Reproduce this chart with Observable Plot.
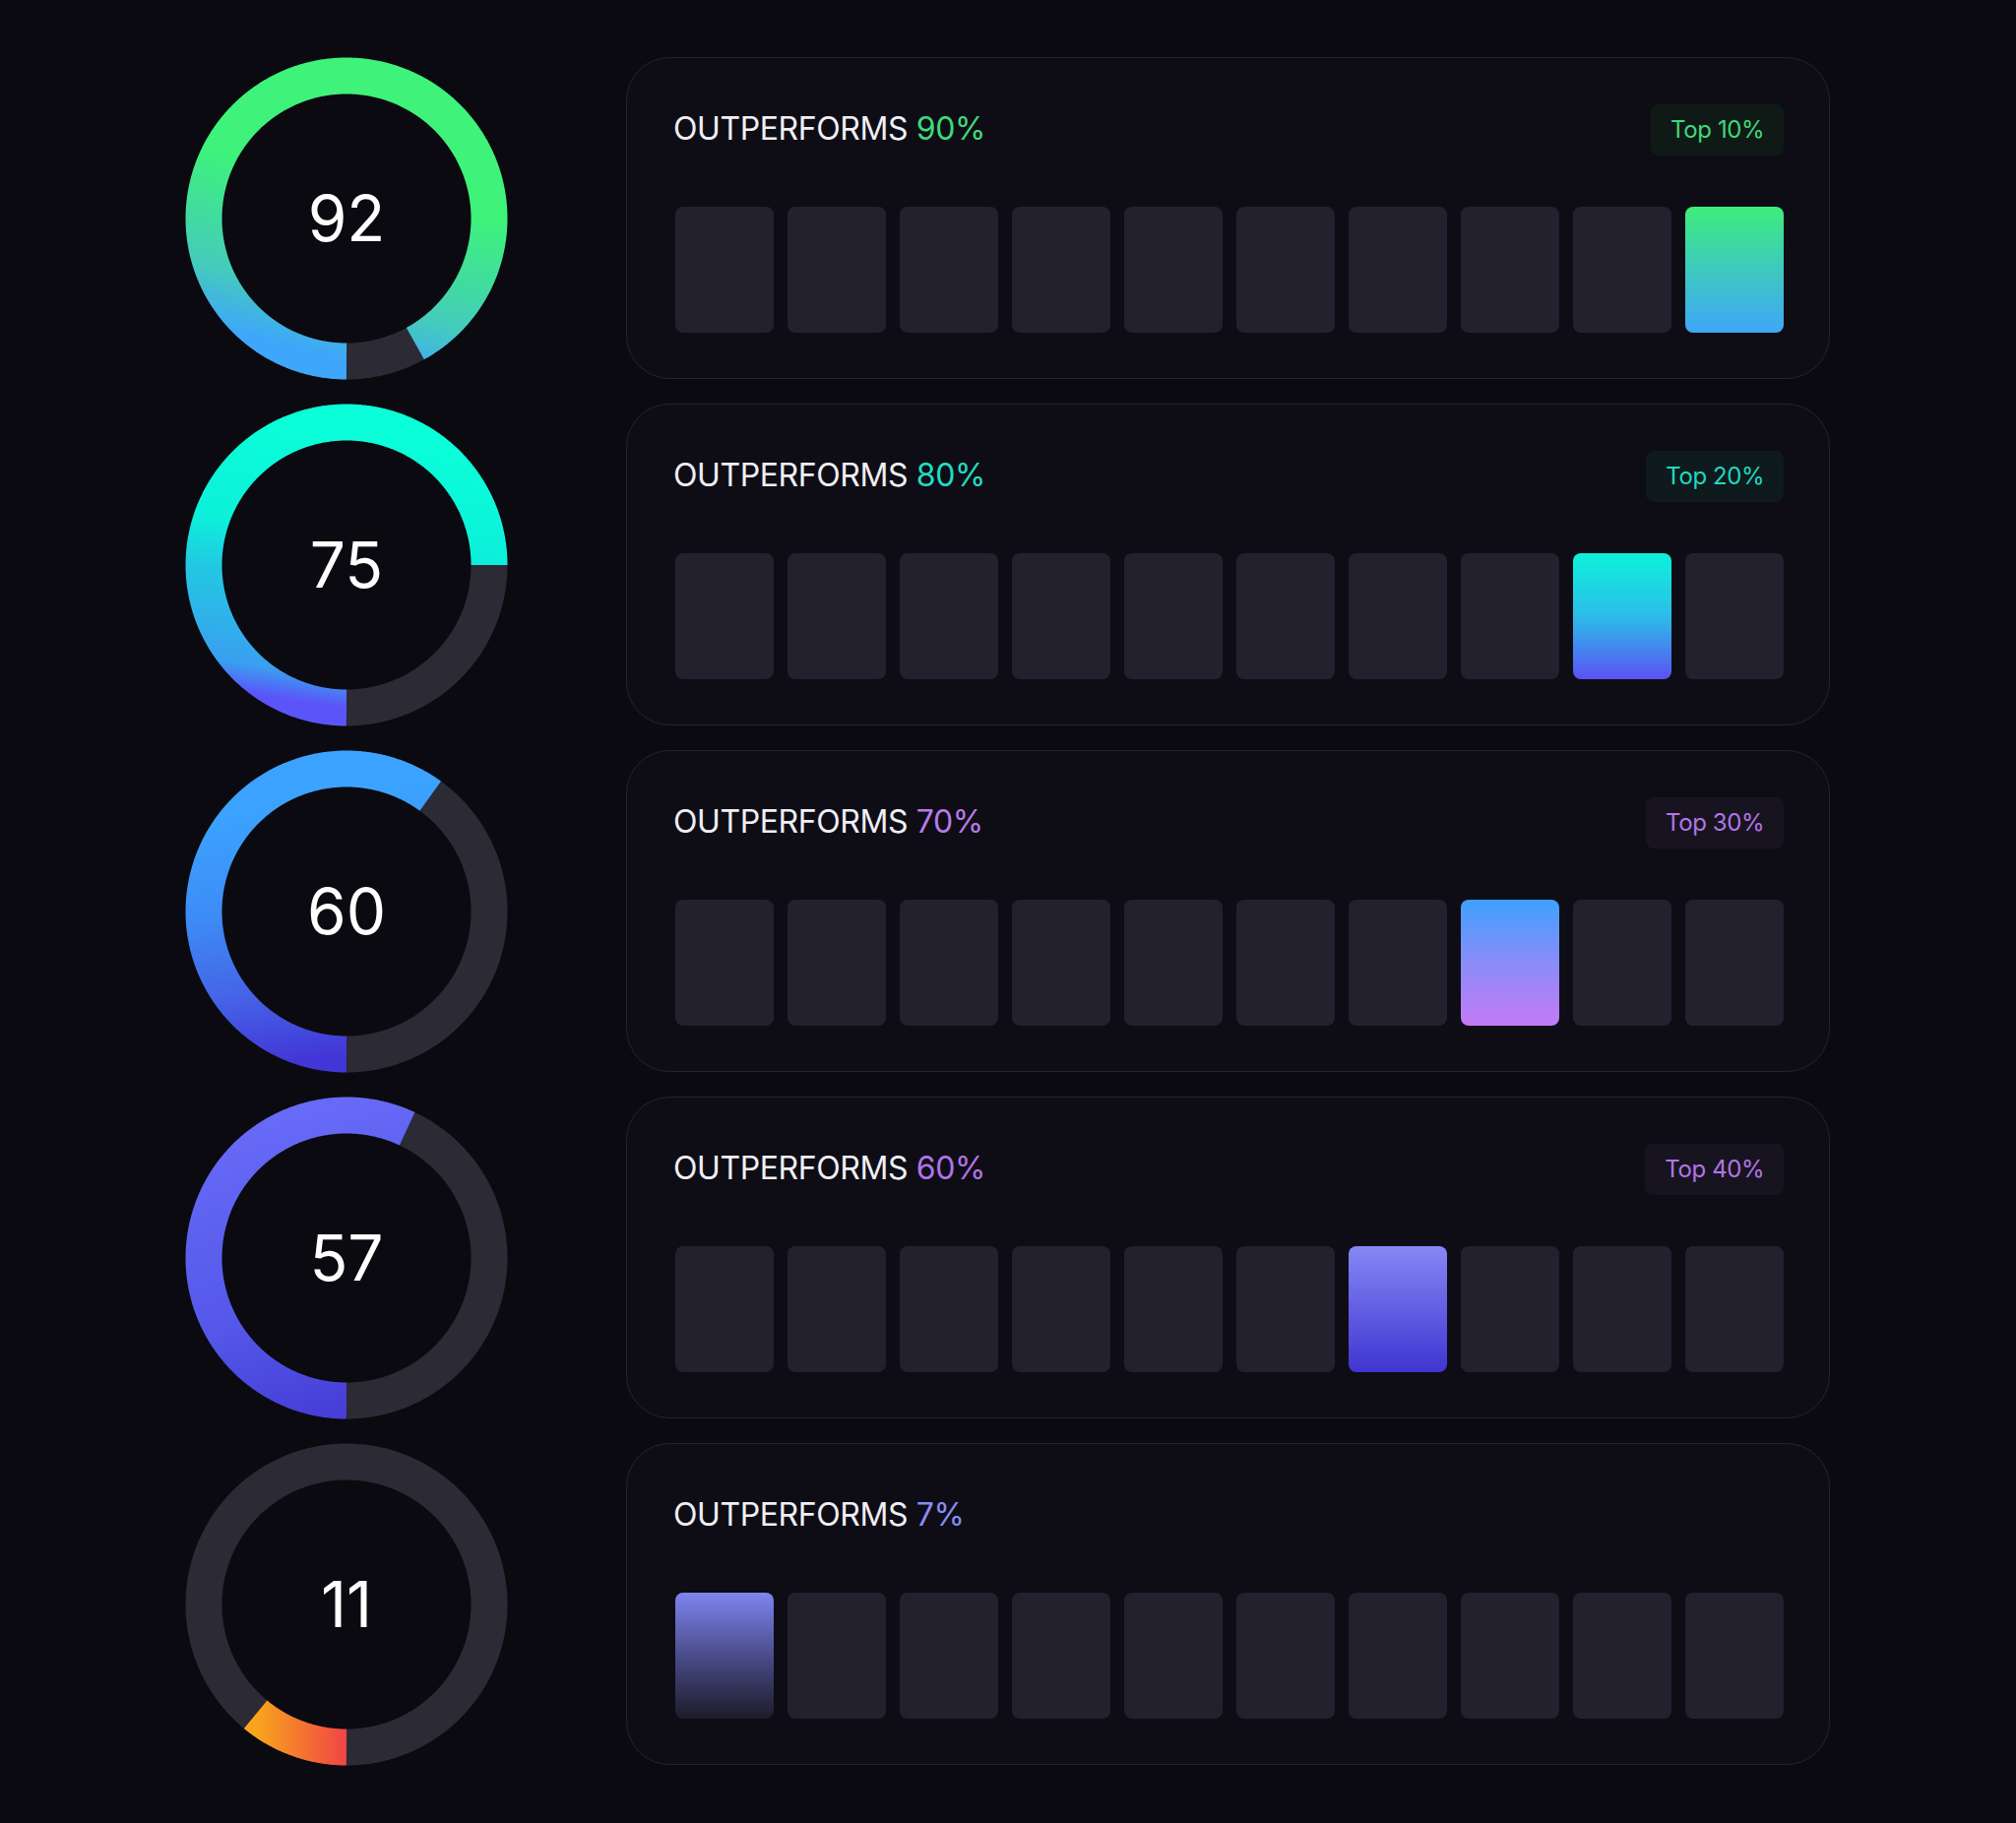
<!DOCTYPE html>
<html>
<head>
<meta charset="utf-8">
<script src="https://cdn.jsdelivr.net/npm/d3@7"></script>
<script src="https://cdn.jsdelivr.net/npm/@observablehq/plot@0.6"></script>
<style>
html, body { margin: 0; padding: 0; background: #0a0a10; }
body { width: 2048px; height: 1852px; position: relative; overflow: hidden; font-family: Inter, "Noto Sans", sans-serif; }
.donut { position: absolute; left: 188px; width: 327px; height: 327px; }
.card { position: absolute; left: 636px; width: 1223px; height: 327px; box-sizing: border-box;
        border: 1.5px solid #25242e; border-radius: 44px; background: #0e0d15; }
.title { position: absolute; left: 47px; top: 55.6px; font-size: 32px; line-height: 32px; color: #efeff4;
         white-space: nowrap; letter-spacing: -0.4px; }
.badge { position: absolute; right: 45.8px; top: 46.5px; height: 52px; box-sizing: border-box; padding: 0 20px;
         border-radius: 8px; font-size: 24px; letter-spacing: -0.4px; display: flex; align-items: center; white-space: nowrap; }
.cells { position: absolute; left: 46.5px; top: 150.5px; }
</style>
</head>
<body>
<script>
// ---- data ----
const scores = [92, 75, 60, 57, 11];
const outperforms = [90, 80, 70, 60, 7];
const badgeLabels = ["Top 10%", "Top 20%", "Top 30%", "Top 40%", ""];
const activeCells = [10, 9, 8, 7, 1];
const cellIds = [1, 2, 3, 4, 5, 6, 7, 8, 9, 10];

// ---- styles ----
const accentColors = ["#3fd97a", "#22dcc4", "#b77ae9", "#b173ea", "#8a8cf2"];
const badgeText = ["#3fd87a", "#1fd8c2", "#b275e5", "#b275e5", "#b275e5"];
const badgeFill = ["#0f1a16", "#0e1a1b", "#17141f", "#17141f", "#17141f"];
const ringGrads = [
  {x1: 0.5, y1: 1, x2: 0.65, y2: 0.41, stops: [[0, "#3ea6fb"], [0.35, "#44ccbb"], [0.6, "#41dba0"], [1, "#3ef27a"]]},
  {x1: 0.5, y1: 1, x2: 0.647, y2: 0.022, stops: [[0, "#5b55f9"], [0.1, "#3a9ff0"], [0.42, "#22c8e2"], [0.6, "#0cf0da"], [1, "#0affd8"]]},
  {x1: 0.63, y1: 1, x2: 0.5, y2: 0, stops: [[0, "#4236d6"], [0.25, "#4562e6"], [0.55, "#3d8cf5"], [0.9, "#3ba3ff"]]},
  {x1: 0.7, y1: 1, x2: 0.5, y2: 0, stops: [[0, "#4740d8"], [0.35, "#5457e8"], [1, "#666af6"]]},
  {x1: 0, y1: 0.5, x2: 1, y2: 0.5, stops: [[0, "#f9a51c"], [1, "#ef4545"]]}
];
const cellGrads = [
  [[0, "#3ded7b"], [0.5, "#3fc9bf"], [1, "#3fa6f7"]],
  [[0, "#0df2da"], [0.5, "#2cbde8"], [1, "#5b52f6"]],
  [[0, "#3fa0ff"], [0.5, "#8a8cf8"], [1, "#c47af6"]],
  [[0, "#8787f5"], [1, "#3f35d1"]],
  [[0, "#7d85f0"], [0.5, "#4a4c8a"], [1, "#1d1b29"]]
];
const trackColor = "#2b2a35";
const cellColor = "#22212d";
const ROW_TOP = 58, ROW_PITCH = 352.1;

function gradientDefs(id, g, vertical) {
  return () => {
    const defs = d3.create("svg:defs");
    const lg = defs.append("linearGradient").attr("id", id);
    if (vertical) lg.attr("x1", 0).attr("y1", 0).attr("x2", 0).attr("y2", 1);
    else lg.attr("x1", g.x1).attr("y1", g.y1).attr("x2", g.x2).attr("y2", g.y2);
    const stops = vertical ? g : g.stops;
    for (const [o, c] of stops) lg.append("stop").attr("offset", o).attr("stop-color", c);
    return defs.node();
  };
}

const R_OUT = 163.5, THICK = 37;
const rMid = (R_OUT - THICK / 2) / R_OUT;
function arcPoints(a0, a1) {
  const n = Math.max(2, Math.ceil((a1 - a0) / 0.5) + 1);
  return d3.range(n).map(i => {
    const a = (a0 + (a1 - a0) * i / (n - 1)) * Math.PI / 180;
    return {x: -rMid * Math.sin(a), y: -rMid * Math.cos(a)};
  });
}

scores.forEach((v, k) => {
  const top = ROW_TOP + k * ROW_PITCH;
  // donut
  const endAngle = v * 3.6;
  const donut = Plot.plot({
    width: 327, height: 327, margin: 0,
    x: {domain: [-1, 1], axis: null},
    y: {domain: [-1, 1], axis: null},
    style: {background: "transparent", overflow: "visible"},
    marks: [
      gradientDefs(`ring${k}`, ringGrads[k], false),
      Plot.line(arcPoints(endAngle, 360), {x: "x", y: "y", stroke: trackColor, strokeWidth: THICK, strokeLinecap: "butt"}),
      Plot.line(arcPoints(0, endAngle), {x: "x", y: "y", stroke: `url(#ring${k})`, strokeWidth: THICK, strokeLinecap: "butt"}),
      Plot.text([v], {text: d => String(d), frameAnchor: "middle", fill: "#ffffff", fontSize: 64, fontFamily: "Inter", dy: 3})
    ]
  });
  const dwrap = document.createElement("div");
  dwrap.className = "donut";
  dwrap.style.top = top + "px";
  dwrap.appendChild(donut);
  document.body.appendChild(dwrap);

  // card
  const card = document.createElement("div");
  card.className = "card";
  card.style.top = top + "px";
  const title = document.createElement("div");
  title.className = "title";
  title.innerHTML = `OUTPERFORMS <span style="color:${accentColors[k]}">${outperforms[k]}%</span>`;
  card.appendChild(title);
  if (badgeLabels[k]) {
    const badge = document.createElement("div");
    badge.className = "badge";
    badge.style.background = badgeFill[k];
    badge.style.color = badgeText[k];
    badge.textContent = badgeLabels[k];
    card.appendChild(badge);
  }
  const active = activeCells[k];
  const cells = Plot.plot({
    width: 1129, height: 128, margin: 0,
    x: {type: "band", domain: cellIds, paddingInner: 0.127, paddingOuter: 0, axis: null},
    style: {background: "transparent"},
    marks: [
      gradientDefs(`cell${k}`, cellGrads[k], true),
      Plot.cell(cellIds.filter(c => c !== active), {x: d => d, fill: cellColor, rx: 8, inset: 0}),
      Plot.cell([active], {x: d => d, fill: `url(#cell${k})`, rx: 8, inset: 0})
    ]
  });
  const cwrap = document.createElement("div");
  cwrap.className = "cells";
  cwrap.appendChild(cells);
  card.appendChild(cwrap);
  document.body.appendChild(card);
});
</script>
</body>
</html>
